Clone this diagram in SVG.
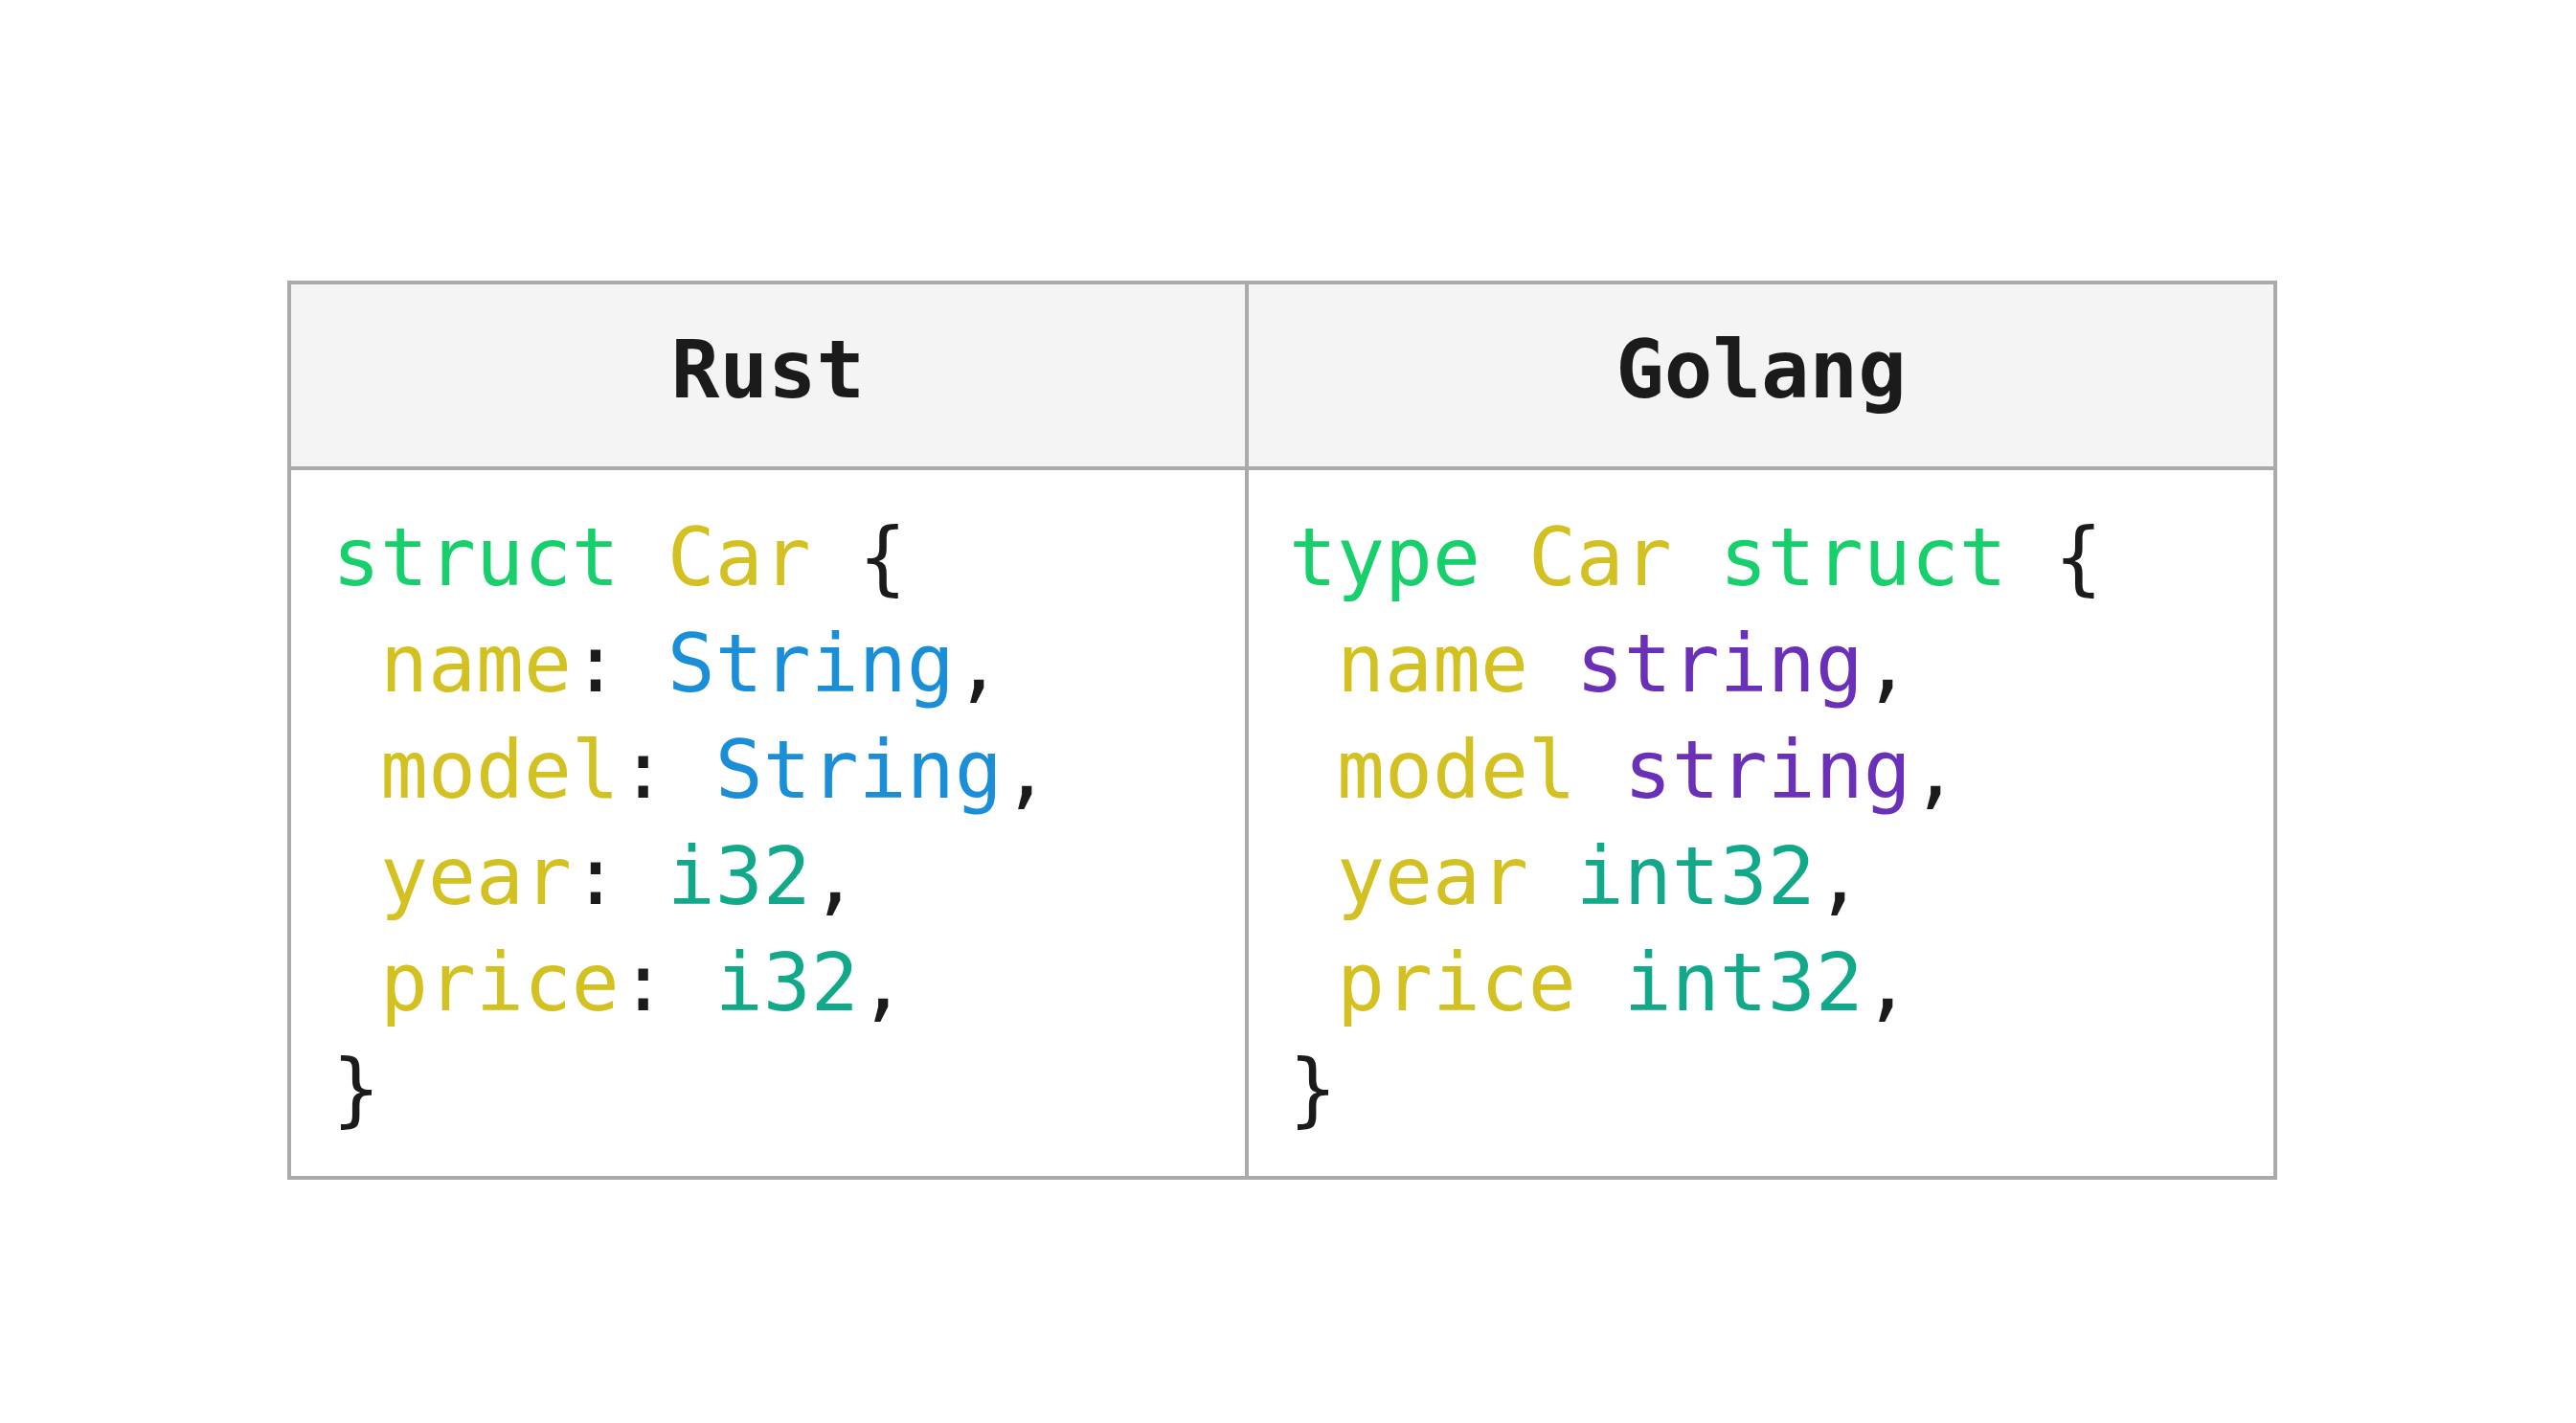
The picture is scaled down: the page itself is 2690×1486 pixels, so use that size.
<svg xmlns="http://www.w3.org/2000/svg" width="2690" height="1486" viewBox="0 0 2690 1486">
<style>
.hdr{font-family:"DejaVu Sans Mono","Liberation Mono",monospace;font-weight:bold;font-size:84px;fill:#1b1b1b;text-anchor:middle}
.code{font-family:"DejaVu Sans Mono","Liberation Mono",monospace;font-size:83px;fill:#1b1b1b;white-space:pre}
.kw{fill:#17d06c}
.id{fill:#d3c122}
.ty{fill:#1a8fd7}
.num{fill:#12a88a}
.gs{fill:#6a30b7}
.p{fill:#1b1b1b}
.cell{fill:#ffffff;stroke:#aaaaaa;stroke-width:4}
.head{fill:#f4f4f4;stroke:#aaaaaa;stroke-width:4}
</style>
<rect width="2690" height="1486" fill="#ffffff"/>
<g id="table">
<rect class="head" x="302" y="295" width="1000" height="194"/>
<rect class="head" x="1302" y="295" width="1074" height="194"/>
<rect class="cell" x="302" y="489" width="1000" height="741"/>
<rect class="cell" x="1302" y="489" width="1074" height="741"/>
</g>
<g id="rust-header"><text class="hdr" x="802" y="415">Rust</text></g>
<g id="golang-header"><text class="hdr" x="1839" y="415">Golang</text></g>
<g id="rust-code">
<text class="code" x="347" y="611" xml:space="preserve"><tspan class="kw">struct</tspan> <tspan class="id">Car</tspan> <tspan class="p">{</tspan></text>
<text class="code" x="347" y="722" xml:space="preserve"> <tspan class="id">name</tspan><tspan class="p">:</tspan> <tspan class="ty">String</tspan><tspan class="p">,</tspan></text>
<text class="code" x="347" y="833" xml:space="preserve"> <tspan class="id">model</tspan><tspan class="p">:</tspan> <tspan class="ty">String</tspan><tspan class="p">,</tspan></text>
<text class="code" x="347" y="944" xml:space="preserve"> <tspan class="id">year</tspan><tspan class="p">:</tspan> <tspan class="num">i32</tspan><tspan class="p">,</tspan></text>
<text class="code" x="347" y="1055" xml:space="preserve"> <tspan class="id">price</tspan><tspan class="p">:</tspan> <tspan class="num">i32</tspan><tspan class="p">,</tspan></text>
<text class="code" x="347" y="1166" xml:space="preserve"><tspan class="p">}</tspan></text>
</g>
<g id="golang-code">
<text class="code" x="1346" y="611" xml:space="preserve"><tspan class="kw">type</tspan> <tspan class="id">Car</tspan> <tspan class="kw">struct</tspan> <tspan class="p">{</tspan></text>
<text class="code" x="1346" y="722" xml:space="preserve"> <tspan class="id">name</tspan> <tspan class="gs">string</tspan><tspan class="p">,</tspan></text>
<text class="code" x="1346" y="833" xml:space="preserve"> <tspan class="id">model</tspan> <tspan class="gs">string</tspan><tspan class="p">,</tspan></text>
<text class="code" x="1346" y="944" xml:space="preserve"> <tspan class="id">year</tspan> <tspan class="num">int32</tspan><tspan class="p">,</tspan></text>
<text class="code" x="1346" y="1055" xml:space="preserve"> <tspan class="id">price</tspan> <tspan class="num">int32</tspan><tspan class="p">,</tspan></text>
<text class="code" x="1346" y="1166" xml:space="preserve"><tspan class="p">}</tspan></text>
</g>
<g id="connectors"/>
</svg>
